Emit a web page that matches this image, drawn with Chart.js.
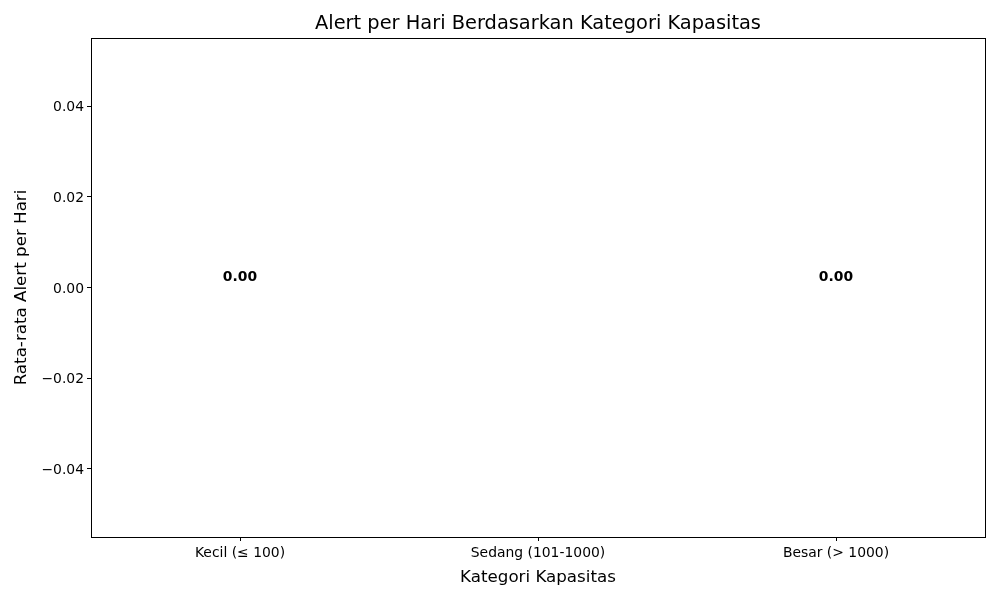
<!DOCTYPE html>
<html>
<head>
<meta charset="utf-8">
<script src="https://cdn.jsdelivr.net/npm/chart.js@4"></script>
<style>
  html, body { margin: 0; padding: 0; background: #fff; }
  #wrap { width: 1000px; height: 600px; }
</style>
</head>
<body>
<div id="wrap"><canvas id="alertChart" width="1000" height="600"></canvas></div>
<script>
// Data
var categories = ["Kecil (\u2264 100)", "Sedang (101-1000)", "Besar (> 1000)"];
var alertPerDay = [0, null, 0];   // Sedang has no value in the picture
var yTicks = [-0.04, -0.02, 0, 0.02, 0.04];
var chartTitle = "Alert per Hari Berdasarkan Kategori Kapasitas";

Chart.defaults.font.family = "'DejaVu Sans', sans-serif";
Chart.defaults.color = "#000";

function fmt(v) {
    return v.toFixed(2).replace("-", "\u2212");
}

// frame around plot area + title centred over the plot area
var framePlugin = {
    id: "frame",
    afterDraw: function(chart) {
        var a = chart.chartArea, c = chart.ctx;
        c.save();
        c.strokeStyle = "#000";
        c.lineWidth = 1;
        c.strokeRect(a.left + 0.5, a.top + 0.5, a.right - a.left, a.bottom - a.top);
        c.font = "19.4px 'DejaVu Sans', sans-serif";
        c.fillStyle = "#000";
        c.textAlign = "center";
        c.textBaseline = "middle";
        c.fillText(chartTitle, (a.left + a.right) / 2, 24);
        c.restore();
    }
};

// value labels above bars
var valueLabels = {
    id: "valueLabels",
    afterDatasetsDraw: function(chart) {
        var c = chart.ctx;
        var meta = chart.getDatasetMeta(0);
        c.save();
        c.font = "bold 13.9px 'DejaVu Sans', sans-serif";
        c.fillStyle = "#000";
        c.textAlign = "center";
        c.textBaseline = "bottom";
        meta.data.forEach(function(bar, i) {
            var v = alertPerDay[i];
            if (v === null || v === undefined) return;
            c.fillText(fmt(v), bar.x, bar.y - 3);
        });
        c.restore();
    }
};

var ctx = document.getElementById("alertChart");

var chartData = {
    labels: categories,
    datasets: [{
        label: "Rata-rata Alert per Hari",
        data: alertPerDay,
        backgroundColor: "#1f77b4",
        barPercentage: 0.8,
        categoryPercentage: 1.0
    }]
};

var chartOptions = {
    responsive: false,
    animation: false,
    layout: { padding: { left: 0, right: 15, top: 38, bottom: 0 } },
    plugins: {
        legend: { display: false },
        tooltip: { enabled: false },
        title: { display: false }
    },
    scales: {
        x: {
            grid: { drawOnChartArea: false, offset: false, tickLength: 4, color: "#000" },
            border: { display: false },
            ticks: { font: { size: 13.9 }, padding: 4 },
            title: {
                display: true,
                text: "Kategori Kapasitas",
                font: { size: 16.7 },
                padding: { top: 0, bottom: 12 }
            },
            afterFit: function(scale) { scale.height = 63; }
        },
        y: {
            min: -0.055,
            max: 0.055,
            grid: { drawOnChartArea: false, tickLength: 4, color: "#000" },
            border: { display: false },
            afterBuildTicks: function(scale) {
                scale.ticks = yTicks.map(function(v) { return { value: v }; });
            },
            ticks: {
                font: { size: 13.9 },
                padding: 3,
                labelOffset: 1.5,
                callback: function(v) { return fmt(v); }
            },
            title: {
                display: true,
                text: "Rata-rata Alert per Hari",
                font: { size: 16.7 },
                padding: { top: 12, bottom: 0 }
            },
            afterFit: function(scale) { scale.width = 91; }
        }
    }
};

var alertChart = new Chart(ctx, {
    type: "bar",
    data: chartData,
    options: chartOptions,
    plugins: [framePlugin, valueLabels]
});
</script>
</body>
</html>
